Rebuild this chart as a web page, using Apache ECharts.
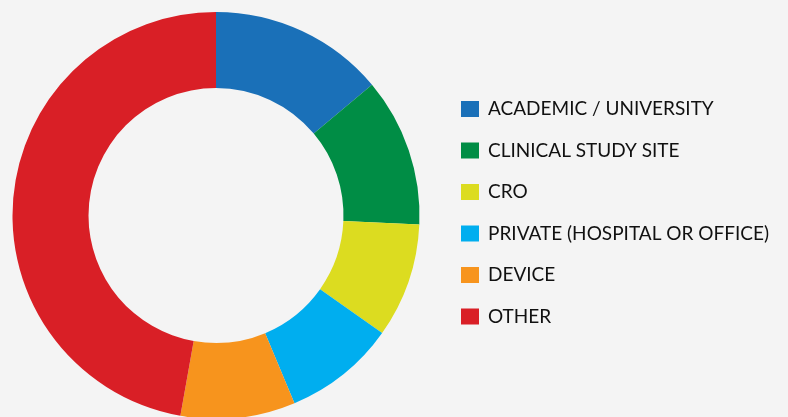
<!DOCTYPE html>
<html>
<head>
<meta charset="utf-8">
<script src="https://cdn.jsdelivr.net/npm/echarts@6/dist/echarts.min.js"></script>
<style>
  html, body { margin: 0; padding: 0; background: #f4f4f4; }
  #chart { width: 788px; height: 417px; }
</style>
</head>
<body>
<div id="chart"></div>
<script>
const categories = [
  "ACADEMIC / UNIVERSITY",
  "CLINICAL STUDY SITE",
  "CRO",
  "PRIVATE (HOSPITAL OR OFFICE)",
  "DEVICE",
  "OTHER"
];
const shares = [13.9, 11.8, 9.1, 8.9, 9.1, 47.2];
const colors = ["#1a70b8", "#008d45", "#dcdc20", "#00aeef", "#f7941d", "#d91f26"];

const chart = echarts.init(document.getElementById("chart"));

const option = {
  backgroundColor: "#f4f4f4",
  color: colors,
  animation: false,
  legend: {
    orient: "vertical",
    left: 461,
    top: 99.5,
    padding: 0,
    itemWidth: 18,
    itemHeight: 16,
    itemGap: 22.5,
    icon: "rect",
    textStyle: {
      fontFamily: "Lato",
      fontSize: 19,
      color: "#111111",
      padding: [0, 0, 0, 4]
    },
    data: categories
  },
  series: [
    {
      type: "pie",
      center: [216, 215.5],
      radius: [127.5, 203.5],
      startAngle: 90,
      clockwise: true,
      label: { show: false },
      labelLine: { show: false },
      emphasis: { disabled: true },
      itemStyle: { borderWidth: 0 },
      data: categories.map((name, i) => ({ name: name, value: shares[i] }))
    }
  ]
};

chart.setOption(option);
</script>
</body>
</html>
